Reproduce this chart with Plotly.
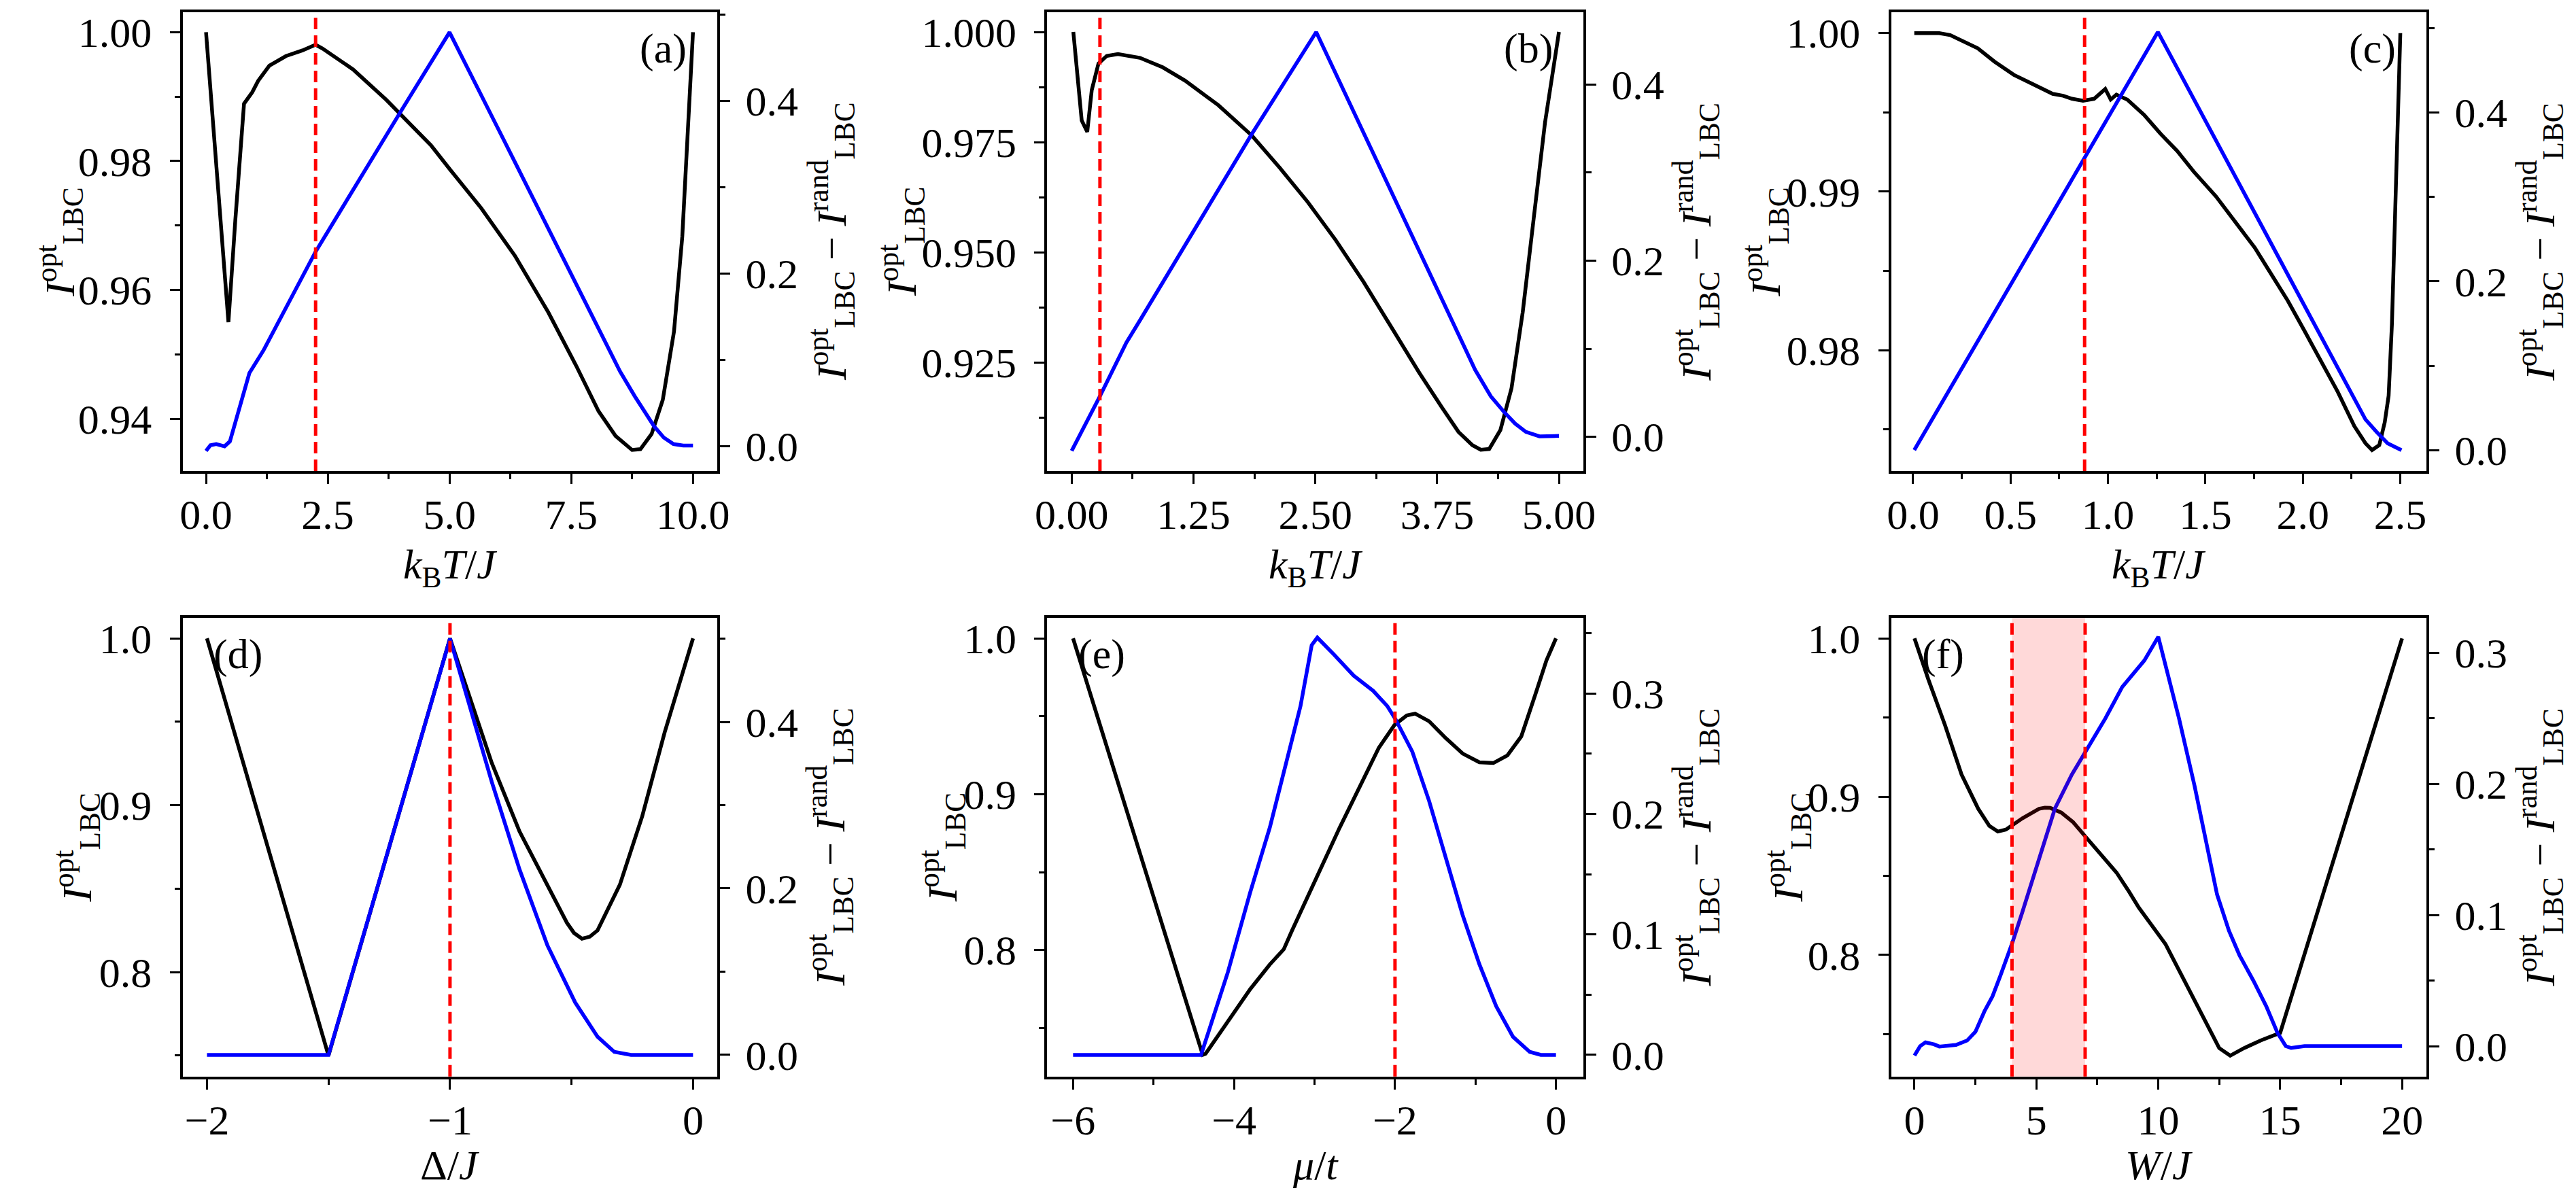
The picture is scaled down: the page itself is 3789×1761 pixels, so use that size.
import plotly.graph_objects as go

# ---- data ----
# (a) k_B T / J in [0, 10]
a_x_opt = [0.0, 0.46, 0.60, 0.78, 0.95, 1.07, 1.30, 1.64, 1.98, 2.25, 2.39, 3.02, 3.70, 4.16,
           4.62, 5.02, 5.65, 6.34, 7.03, 7.60, 8.06, 8.41, 8.75, 8.92, 9.15, 9.38, 9.61, 9.78, 10.0]
a_opt = [1.000, 0.9550, 0.9707, 0.9889, 0.9907, 0.99245, 0.99481, 0.99629, 0.99717, 0.99805,
         0.99747, 0.99422, 0.98951, 0.98597, 0.98244, 0.97860, 0.97271, 0.96534, 0.95650,
         0.94825, 0.94118, 0.93734, 0.93516, 0.93528, 0.93764, 0.94295, 0.95355, 0.96829, 1.000]
a_x_gap = [0.0, 0.09, 0.21, 0.38, 0.49, 0.67, 0.89, 1.18, 2.25, 4.0, 5.0, 6.0, 7.0, 8.0, 8.5,
           8.8, 9.0, 9.2, 9.4, 9.6, 9.8, 10.0]
a_gap = [-0.0057, 0.0009, 0.0022, -0.0004, 0.0053, 0.0405, 0.0845, 0.1109, 0.2253, 0.388,
         0.4797, 0.3677, 0.2557, 0.1421, 0.0867, 0.058, 0.0396, 0.0229, 0.0097, 0.0022,
         0.0005, 0.0005]
a_vlines = [2.25]

# (b) k_B T / J in [0, 5]
b_x_opt = [0.017, 0.103, 0.160, 0.206, 0.275, 0.36, 0.475, 0.70, 0.934, 1.163, 1.506, 1.85,
           2.136, 2.423, 2.709, 2.995, 3.282, 3.568, 3.797, 3.969, 4.112, 4.198, 4.284, 4.399,
           4.513, 4.628, 4.742, 4.857, 5.0]
b_opt = [1.000, 0.97993, 0.97735, 0.98682, 0.99285, 0.99457, 0.99500, 0.99414, 0.99199,
         0.98898, 0.98338, 0.97649, 0.96917, 0.96142, 0.95281, 0.94333, 0.93300, 0.92267,
         0.91492, 0.90932, 0.90630, 0.90527, 0.90544, 0.90975, 0.91922, 0.93645, 0.95797,
         0.97950, 1.000]
b_x_gap = [0.0, 0.292, 0.561, 0.704, 1.85, 2.509, 3.0, 3.568, 3.9, 4.14, 4.3, 4.43, 4.55,
           4.66, 4.8, 5.0]
b_gap = [-0.0159, 0.0466, 0.1069, 0.1328, 0.344, 0.4595, 0.344, 0.2103, 0.1323, 0.076,
         0.046, 0.029, 0.015, 0.0056, 0.0005, 0.001]
b_vlines = [0.29]

# (c) k_B T / J in [0, 2.5]
c_x_opt = [0.006, 0.134, 0.19, 0.276, 0.332, 0.418, 0.517, 0.616, 0.716, 0.77, 0.815, 0.872,
           0.929, 0.986, 1.014, 1.043, 1.099, 1.185, 1.27, 1.355, 1.44, 1.554, 1.668, 1.753,
           1.838, 1.923, 2.009, 2.094, 2.179, 2.264, 2.321, 2.355, 2.392, 2.42, 2.44, 2.457,
           2.477, 2.5]
c_opt = [1.0, 1.0, 0.99988, 0.9994, 0.99904, 0.9982, 0.99737, 0.99677, 0.99617, 0.99605,
         0.99586, 0.99574, 0.99586, 0.99648, 0.99581, 0.99612, 0.99581, 0.99485, 0.99365,
         0.99257, 0.99126, 0.9897, 0.9879, 0.98647, 0.98479, 0.98311, 0.9812, 0.97928,
         0.97737, 0.97521, 0.97413, 0.9737, 0.97401, 0.97545, 0.97713, 0.98168, 0.98958, 1.0]
c_x_gap = [0.006, 1.256, 2.0, 2.25, 2.321, 2.378, 2.435, 2.506]
c_gap = [0.0, 0.4954, 0.1746, 0.067, 0.0364, 0.0216, 0.0081, 0.0]
c_vlines = [0.88]

# (d) Delta / J in [-2, 0]
d_x_opt = [-2.0, -1.5, -1.0, -0.9, -0.828, -0.714, -0.599, -0.519, -0.49, -0.457, -0.425,
           -0.393, -0.301, -0.209, -0.117, 0.0]
d_opt = [1.0, 0.75, 1.0, 0.9572, 0.9253, 0.8843, 0.8524, 0.8296, 0.8235, 0.8200, 0.8212,
         0.8250, 0.8524, 0.8934, 0.9435, 1.0]
d_x_gap = [-2.0, -1.5, -1.0, -0.828, -0.714, -0.599, -0.485, -0.393, -0.324, -0.255, 0.0]
d_gap = [0.0, 0.0, 0.5, 0.3279, 0.2228, 0.1315, 0.063, 0.0219, 0.0037, 0.0, 0.0]
d_vlines = [-1.0]

# (e) mu / t in [-6, 0]
e_x_opt = [-6.0, -4.389, -4.354, -4.076, -3.799, -3.556, -3.382, -3.278, -3.104, -2.896,
           -2.688, -2.514, -2.375, -2.201, -2.007, -1.854, -1.75, -1.576, -1.368, -1.16,
           -0.951, -0.778, -0.604, -0.431, -0.257, -0.118, 0.0]
e_opt = [1.0, 0.7327, 0.7334, 0.7541, 0.7749, 0.7907, 0.8005, 0.8127, 0.8322, 0.8566, 0.8785,
         0.8968, 0.9115, 0.9298, 0.9444, 0.9505, 0.9517, 0.9468, 0.9359, 0.9261, 0.9205,
         0.92, 0.9249, 0.9371, 0.9639, 0.9859, 1.0]
e_x_gap = [-6.0, -4.41, -4.076, -3.799, -3.556, -3.382, -3.174, -3.035, -2.965, -2.757,
           -2.514, -2.271, -2.097, -1.993, -1.785, -1.576, -1.368, -1.16, -0.951, -0.743,
           -0.535, -0.326, -0.188, 0.0]
e_gap = [0.0, 0.0, 0.0688, 0.135, 0.1886, 0.236, 0.2896, 0.3401, 0.3464, 0.3322, 0.3148,
         0.3022, 0.2896, 0.2785, 0.2517, 0.2107, 0.1634, 0.1161, 0.0751, 0.0404, 0.0151,
         0.0025, 0.0, 0.0]
e_vlines = [-2.0]

# (f) W / J in [0, 20]
f_x_opt = [0.0, 0.568, 1.25, 1.93, 2.614, 3.07, 3.42, 3.75, 4.43, 5.11, 5.35, 5.57, 6.02,
           6.5, 7.0, 7.5, 8.29, 8.8, 9.2, 10.3, 10.8, 11.95, 12.5, 12.95, 13.52, 14.2, 15.0,
           20.0]
f_opt = [1.0, 0.9741, 0.9453, 0.914, 0.8924, 0.8816, 0.878, 0.8792, 0.8864, 0.8924, 0.893,
         0.8929, 0.89, 0.884, 0.875, 0.866, 0.852, 0.84, 0.83, 0.8068, 0.7916, 0.7568,
         0.7412, 0.7364, 0.7412, 0.746, 0.7508, 1.0]
f_x_gap = [0.0, 0.23, 0.45, 0.8, 1.02, 1.7, 2.16, 2.5, 2.87, 3.2, 3.52, 4.0, 4.42, 5.07,
           5.76, 6.45, 7.0, 7.83, 8.52, 9.43, 10.0, 10.85, 11.49, 12.41, 12.9, 13.33, 13.9,
           14.43, 14.89, 15.23, 15.45, 16.0, 20.0]
f_gap = [-0.0072, 0.0, 0.0029, 0.0014, -0.0003, 0.0009, 0.0043, 0.011, 0.0266, 0.038,
         0.0536, 0.0782, 0.102, 0.14, 0.1812, 0.207, 0.2242, 0.25, 0.2739, 0.2942, 0.3122,
         0.25, 0.1984, 0.1158, 0.088, 0.0694, 0.05, 0.0304, 0.0101, 0.0, -0.0014, 0.0, 0.0]
f_vlines = [4.0, 7.0]
f_band = [4.0, 7.0]

# ---- tick values, labels and minor ticks ----
a_xticks = [0, 2.5, 5, 7.5, 10]
a_xlabels = ["0.0", "2.5", "5.0", "7.5", "10.0"]
a_xminor = [1.25, 3.75, 6.25, 8.75]
b_xticks = [0, 1.25, 2.5, 3.75, 5]
b_xlabels = ["0.00", "1.25", "2.50", "3.75", "5.00"]
b_xminor = [0.625, 1.875, 3.125, 4.375]
c_xticks = [0, 0.5, 1.0, 1.5, 2.0, 2.5]
c_xlabels = ["0.0", "0.5", "1.0", "1.5", "2.0", "2.5"]
c_xminor = [0.25, 0.75, 1.25, 1.75, 2.25]
d_xticks = [-2, -1, 0]
d_xlabels = ["\u22122", "\u22121", "0"]
d_xminor = [-1.5, -0.5]
e_xticks = [-6, -4, -2, 0]
e_xlabels = ["\u22126", "\u22124", "\u22122", "0"]
e_xminor = [-5, -3, -1]
f_xticks = [0, 5, 10, 15, 20]
f_xlabels = ["0", "5", "10", "15", "20"]
f_xminor = [2.5, 7.5, 12.5, 17.5]

a_yticks = [0.94, 0.96, 0.98, 1.00]
a_ylabels = ["0.94", "0.96", "0.98", "1.00"]
a_yminor = [0.95, 0.97, 0.99]
b_yticks = [0.925, 0.95, 0.975, 1.0]
b_ylabels = ["0.925", "0.950", "0.975", "1.000"]
b_yminor = [0.9125, 0.9375, 0.9625, 0.9875]
c_yticks = [0.98, 0.99, 1.0]
c_ylabels = ["0.98", "0.99", "1.00"]
c_yminor = [0.975, 0.985, 0.995]
def_yticks = [0.8, 0.9, 1.0]
def_ylabels = ["0.8", "0.9", "1.0"]
def_yminor = [0.75, 0.85, 0.95]

gap5_ticks = [0.0, 0.2, 0.4]
gap5_labels = ["0.0", "0.2", "0.4"]
gap5_minor = [0.1, 0.3, 0.5]
e_gticks = [0.0, 0.1, 0.2, 0.3]
e_glabels = ["0.0", "0.1", "0.2", "0.3"]
e_gminor = [0.05, 0.15, 0.25, 0.35]
f_gticks = [0.0, 0.1, 0.2, 0.3]
f_glabels = ["0.0", "0.1", "0.2", "0.3"]
f_gminor = [0.05, 0.15, 0.25]

panel_tags = ["(a)", "(b)", "(c)", "(d)", "(e)", "(f)"]
x_titles = ["<i>k</i><sub>B</sub><i>T</i>/<i>J</i>", "<i>k</i><sub>B</sub><i>T</i>/<i>J</i>",
            "<i>k</i><sub>B</sub><i>T</i>/<i>J</i>", "\u0394/<i>J</i>", "<i>\u03bc</i>/<i>t</i>",
            "<i>W</i>/<i>J</i>"]
left_title = "<i>I</i><sup>opt</sup><sub>LBC</sub>"
right_title = "<i>I</i><sup>opt</sup><sub>LBC</sub> \u2212 <i>I</i><sup>rand</sup><sub>LBC</sub>"

panels = [
    (a_x_opt, a_opt, a_x_gap, a_gap, a_vlines, a_xticks, a_xlabels, a_xminor,
     a_yticks, a_ylabels, a_yminor, gap5_ticks, gap5_labels, gap5_minor),
    (b_x_opt, b_opt, b_x_gap, b_gap, b_vlines, b_xticks, b_xlabels, b_xminor,
     b_yticks, b_ylabels, b_yminor, gap5_ticks, gap5_labels, gap5_minor),
    (c_x_opt, c_opt, c_x_gap, c_gap, c_vlines, c_xticks, c_xlabels, c_xminor,
     c_yticks, c_ylabels, c_yminor, gap5_ticks, gap5_labels, gap5_minor),
    (d_x_opt, d_opt, d_x_gap, d_gap, d_vlines, d_xticks, d_xlabels, d_xminor,
     def_yticks, def_ylabels, def_yminor, gap5_ticks, gap5_labels, gap5_minor),
    (e_x_opt, e_opt, e_x_gap, e_gap, e_vlines, e_xticks, e_xlabels, e_xminor,
     def_yticks, def_ylabels, def_yminor, e_gticks, e_glabels, e_gminor),
    (f_x_opt, f_opt, f_x_gap, f_gap, f_vlines, f_xticks, f_xlabels, f_xminor,
     def_yticks, def_ylabels, def_yminor, f_gticks, f_glabels, f_gminor),
]

W, H = 3789, 1761
x_domains = [[245 / W, 1039 / W], [1529 / W, 2325 / W], [2782 / W, 3577 / W]]
y_domains = [[1 - 684 / H, 1 - 6 / H], [1 - 1579 / H, 1 - 901 / H]]
x_ranges = [[-0.48, 10.5], [-0.25, 5.25], [-0.113, 2.634], [-2.1, 0.1], [-6.32, 0.34],
            [-0.96, 21.0]]
yl_ranges = [[0.9319, 1.0031], [0.90046, 1.00448], [0.97238, 1.00132], [0.7374, 1.0123],
             [0.7188, 1.0132], [0.7232, 1.013]]
yr_ranges = [[-0.029, 0.503], [-0.0388, 0.482], [-0.0247, 0.5188], [-0.026, 0.525],
             [-0.018, 0.3628], [-0.0232, 0.3267]]
# centres of the rotated y titles (px from the left) and of the x titles (px from the top)
left_title_x = [62, 1312, 2595, 87, 1372, 2628]
right_title_x = [1208, 2492, 3745, 1206, 2492, 3745]
x_title_y = [826, 1710]

FONT = "Liberation Serif, Times New Roman, serif"
TICK_SIZE = 62
TITLE_SIZE = 62
LINE_W = 5.5


def ax_id(letter, k):
    # plotly calls the first axis "x"/"y", then "x2", "y2", ...
    return letter if k == 1 else "%s%d" % (letter, k)


fig = go.Figure()
layout = dict(width=W, height=H, margin=dict(l=0, r=0, t=0, b=0),
              paper_bgcolor="white", plot_bgcolor="white", showlegend=False,
              font=dict(family=FONT, size=TICK_SIZE, color="black"))
shapes = []
annotations = []

axis_common = dict(showgrid=False, zeroline=False, showline=True, linecolor="black",
                   linewidth=4, ticks="outside", ticklen=15, tickwidth=3, tickcolor="black",
                   tickfont=dict(family=FONT, size=TICK_SIZE, color="black"))


def minor_ticks(vals):
    return dict(tickmode="array", tickvals=vals, ticks="outside", ticklen=8, tickwidth=2.5,
                tickcolor="black", showgrid=False)


def text_note(text, x, y, angle=0):
    return dict(text=text, xref="paper", yref="paper", x=x, y=y, xanchor="center",
                yanchor="middle", textangle=angle, showarrow=False,
                font=dict(family=FONT, size=TITLE_SIZE))


for i, p in enumerate(panels):
    (x_opt, y_opt, x_gap, y_gap, vlines, xt, xl, xm, yt, yl, ym, gt, gl, gm) = p
    n = i + 1
    row, col = divmod(i, 3)
    xa = ax_id("x", n)
    yla = ax_id("y", 2 * n - 1)
    yra = ax_id("y", 2 * n)

    fig.add_trace(go.Scatter(x=x_opt, y=y_opt, mode="lines", xaxis=xa, yaxis=yla,
                             line=dict(color="black", width=LINE_W), hoverinfo="skip"))
    fig.add_trace(go.Scatter(x=x_gap, y=y_gap, mode="lines", xaxis=xa, yaxis=yra,
                             line=dict(color="#0000ff", width=LINE_W), hoverinfo="skip"))

    layout["xaxis%d" % n] = dict(axis_common, domain=x_domains[col], anchor=yla,
                                 range=x_ranges[i], tickmode="array", tickvals=xt,
                                 ticktext=xl, minor=minor_ticks(xm), mirror=True,
                                 ticklabelstandoff=-8)
    layout["yaxis%d" % (2 * n - 1)] = dict(axis_common, domain=y_domains[row], anchor=xa,
                                           range=yl_ranges[i], tickmode="array",
                                           tickvals=yt, ticktext=yl, minor=minor_ticks(ym),
                                           side="left", ticklabelstandoff=14)
    layout["yaxis%d" % (2 * n)] = dict(axis_common, domain=y_domains[row], anchor=xa,
                                       overlaying=yla, side="right", range=yr_ranges[i],
                                       tickmode="array", tickvals=gt, ticktext=gl,
                                       minor=minor_ticks(gm), ticklabelstandoff=10)

    # axis titles
    y_mid = sum(y_domains[row]) / 2
    x_mid = sum(x_domains[col]) / 2
    annotations.append(text_note(x_titles[i], x_mid, 1 - x_title_y[row] / H))
    annotations.append(text_note(left_title, left_title_x[i] / W, y_mid, -90))
    annotations.append(text_note(right_title, right_title_x[i] / W, y_mid, -90))

    if n == 6:
        shapes.append(dict(type="rect", xref=xa, yref=yla + " domain", x0=f_band[0],
                           x1=f_band[1], y0=0, y1=1, fillcolor="rgba(255,0,0,0.15)",
                           line=dict(width=0), layer="above"))
    for v in vlines:
        shapes.append(dict(type="line", xref=xa, yref=yla + " domain", x0=v, x1=v, y0=0,
                           y1=1, line=dict(color="#ff0000", width=5, dash="17px,9px"),
                           layer="above"))

    if row == 0:
        annotations.append(dict(text=panel_tags[i], xref=xa + " domain",
                                yref=yla + " domain", x=0.945, y=0.975, xanchor="right",
                                yanchor="top", showarrow=False,
                                font=dict(family=FONT, size=TICK_SIZE)))
    else:
        annotations.append(dict(text=panel_tags[i], xref=xa + " domain",
                                yref=yla + " domain", x=0.055, y=0.975, xanchor="left",
                                yanchor="top", showarrow=False,
                                font=dict(family=FONT, size=TICK_SIZE)))

layout["shapes"] = shapes
layout["annotations"] = annotations
fig.update_layout(**layout)

fig.write_html("out.html")
